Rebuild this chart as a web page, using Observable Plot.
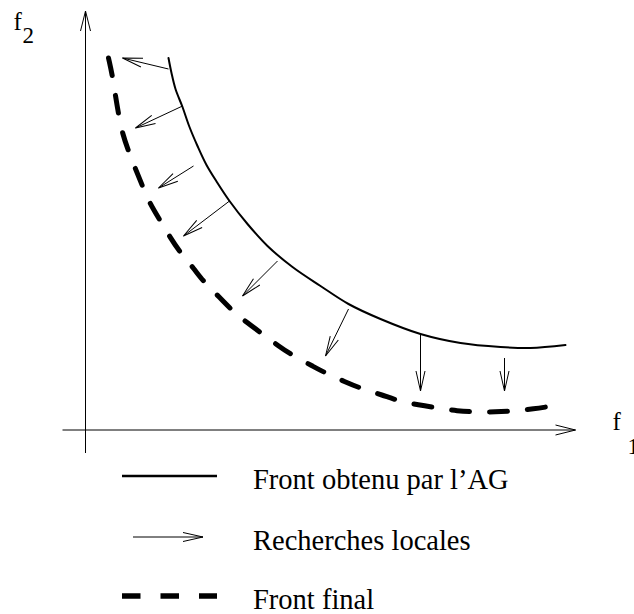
<!DOCTYPE html>
<html>
<head>
<meta charset="utf-8">
<script src="https://cdn.jsdelivr.net/npm/d3@7"></script>
<script src="https://cdn.jsdelivr.net/npm/@observablehq/plot@0.6"></script>
<style>
  html, body { margin: 0; padding: 0; background: #fff; }
  #wrap { position: relative; width: 634px; height: 614px; overflow: hidden; background: #fff; }
  #wrap svg { display: block; }
</style>
</head>
<body>
<div id="wrap"></div>
<script>
// ---------- Data (objective space f1, f2 in arbitrary units) ----------
// Front obtenu par l'AG (solid curve)
const frontAG_f1 = [83, 86, 90, 97, 104, 112, 121, 132, 144, 162, 182, 207, 235, 263, 295, 335, 375, 415, 445, 480];
const frontAG_f2 = [372, 357, 341, 323, 303, 284, 265, 247, 229, 206, 184, 163, 144, 126, 111, 96, 87, 83, 82, 85];

// Front final (dashed curve)
const frontFinal_f1 = [23, 27, 30, 33, 37, 43, 50, 57, 64, 75, 85, 95, 108, 119, 134, 147, 162, 177, 193, 208, 227, 240, 260, 277, 297, 313, 333, 352, 372, 390, 410, 428, 448, 467];
const frontFinal_f2 = [372, 354, 334, 316, 296, 279, 261, 244, 227, 209, 192, 177, 162, 147, 133, 119, 107, 96, 84, 74, 64, 57, 48, 41, 35, 29, 25, 22, 19, 18, 18, 19, 21, 24];

// Recherches locales (arrows: from -> to)
const search_from_f1 = [83, 97, 108, 144, 192, 263, 335, 419];
const search_from_f2 = [361, 324, 264, 229, 169, 121, 96, 72];
const search_to_f1   = [37, 50, 73, 98, 157, 240, 335, 419];
const search_to_f2   = [372, 302, 242, 194, 134, 74, 39, 39];

// Axes extents (f1 axis, f2 axis)
const axis_from_f1 = [-23, 0];
const axis_from_f2 = [0, -23];
const axis_to_f1   = [490, 0];
const axis_to_f2   = [0, 419];

// Axis labels (letter + subscript)
const axisLetters   = ["f", "f"];
const axisLetter_f1 = [-72, 527];
const axisLetter_f2 = [400, 0];
const axisIndices   = ["2", "1"];
const axisIndex_f1  = [-63, 542];
const axisIndex_f2  = [387, -24];

// Legend labels
const legendLabels = ["Front obtenu par l\u2019AG", "Recherches locales", "Front final"];

// ---------- Tables built from the arrays ----------
const agData = frontAG_f1.map((x, i) => ({f1: x, f2: frontAG_f2[i]}));
const finalData = frontFinal_f1.map((x, i) => ({f1: x, f2: frontFinal_f2[i]}));
const searches = search_from_f1.map((x, i) => ({x1: x, y1: search_from_f2[i], x2: search_to_f1[i], y2: search_to_f2[i]}));
const axes = axis_from_f1.map((x, i) => ({x1: x, y1: axis_from_f2[i], x2: axis_to_f1[i], y2: axis_to_f2[i]}));
const letters = axisLetters.map((t, i) => ({t, f1: axisLetter_f1[i], f2: axisLetter_f2[i]}));
const indices = axisIndices.map((t, i) => ({t, f1: axisIndex_f1[i], f2: axisIndex_f2[i]}));

const serif = "'Liberation Serif', 'Times New Roman', Times, serif";

const plot = Plot.plot({
  width: 634,
  height: 460,
  margin: 0,
  style: {background: "white", overflow: "visible"},
  x: {domain: [-85, 549], range: [0, 634], axis: null},
  y: {domain: [-30.5, 429.5], range: [460, 0], axis: null},
  marks: [
    Plot.link(axes, {x1: "x1", y1: "y1", x2: "x2", y2: "y2", stroke: "black", strokeWidth: 1}),
    Plot.line(agData, {x: "f1", y: "f2", curve: "catmull-rom", stroke: "black", strokeWidth: 2}),
    Plot.line(finalData, {x: "f1", y: "f2", curve: "basis", stroke: "black", strokeWidth: 5, strokeDasharray: "18,20"}),
    Plot.link(searches, {x1: "x1", y1: "y1", x2: "x2", y2: "y2", stroke: "black", strokeWidth: 1}),
    Plot.text(letters, {x: "f1", y: "f2", text: "t", fontSize: 25, fontFamily: serif, textAnchor: "start", lineAnchor: "bottom", fill: "black"}),
    Plot.text(indices, {x: "f1", y: "f2", text: "t", fontSize: 23, fontFamily: serif, textAnchor: "start", lineAnchor: "bottom", fill: "black"})
  ]
});

function addMarker(defs, id, len, half) {
  defs.append("marker")
    .attr("id", id)
    .attr("markerUnits", "userSpaceOnUse")
    .attr("viewBox", `${-len - 2} ${-half - 2} ${len + 4} ${2 * half + 4}`)
    .attr("markerWidth", len + 4)
    .attr("markerHeight", 2 * half + 4)
    .attr("refX", 0).attr("refY", 0)
    .attr("orient", "auto")
    .style("overflow", "visible")
    .append("path")
    .attr("d", `M${-len},${-half}L0,0L${-len},${half}`)
    .attr("fill", "none")
    .attr("stroke", "black")
    .attr("stroke-width", 1);
}

const svg = d3.select(plot);
const defs = svg.insert("defs", ":first-child");
addMarker(defs, "arrAxis", 20, 5);
addMarker(defs, "arrSearch", 20, 4.5);
svg.selectAll('g[aria-label="link"]').each(function (_, i) {
  d3.select(this).selectAll("path").attr("marker-end", i === 0 ? "url(#arrAxis)" : "url(#arrSearch)");
});

const wrap = document.getElementById("wrap");
wrap.appendChild(plot);

// ---------- Legend (below the plot SVG) ----------
const leg = d3.select(wrap).append("svg")
  .attr("width", 634).attr("height", 154)
  .style("display", "block");
const ldefs = leg.append("defs");
addMarker(ldefs, "arrLegend", 20, 4.5);

const rows = [16, 77, 136];
leg.append("line").attr("x1", 122).attr("x2", 217).attr("y1", rows[0]).attr("y2", rows[0])
  .attr("stroke", "black").attr("stroke-width", 2.5);
leg.append("line").attr("x1", 133).attr("x2", 203).attr("y1", rows[1]).attr("y2", rows[1])
  .attr("stroke", "black").attr("stroke-width", 1).attr("marker-end", "url(#arrLegend)");
leg.append("line").attr("x1", 122).attr("x2", 217).attr("y1", rows[2]).attr("y2", rows[2])
  .attr("stroke", "black").attr("stroke-width", 5.5).attr("stroke-dasharray", "18.5,20");

leg.selectAll("text.lbl").data(legendLabels).join("text")
  .attr("class", "lbl")
  .attr("x", 253)
  .attr("y", (d, i) => rows[i] + 13)
  .attr("font-family", serif)
  .attr("font-size", 28.5)
  .attr("fill", "black")
  .text(d => d);
</script>
</body>
</html>
